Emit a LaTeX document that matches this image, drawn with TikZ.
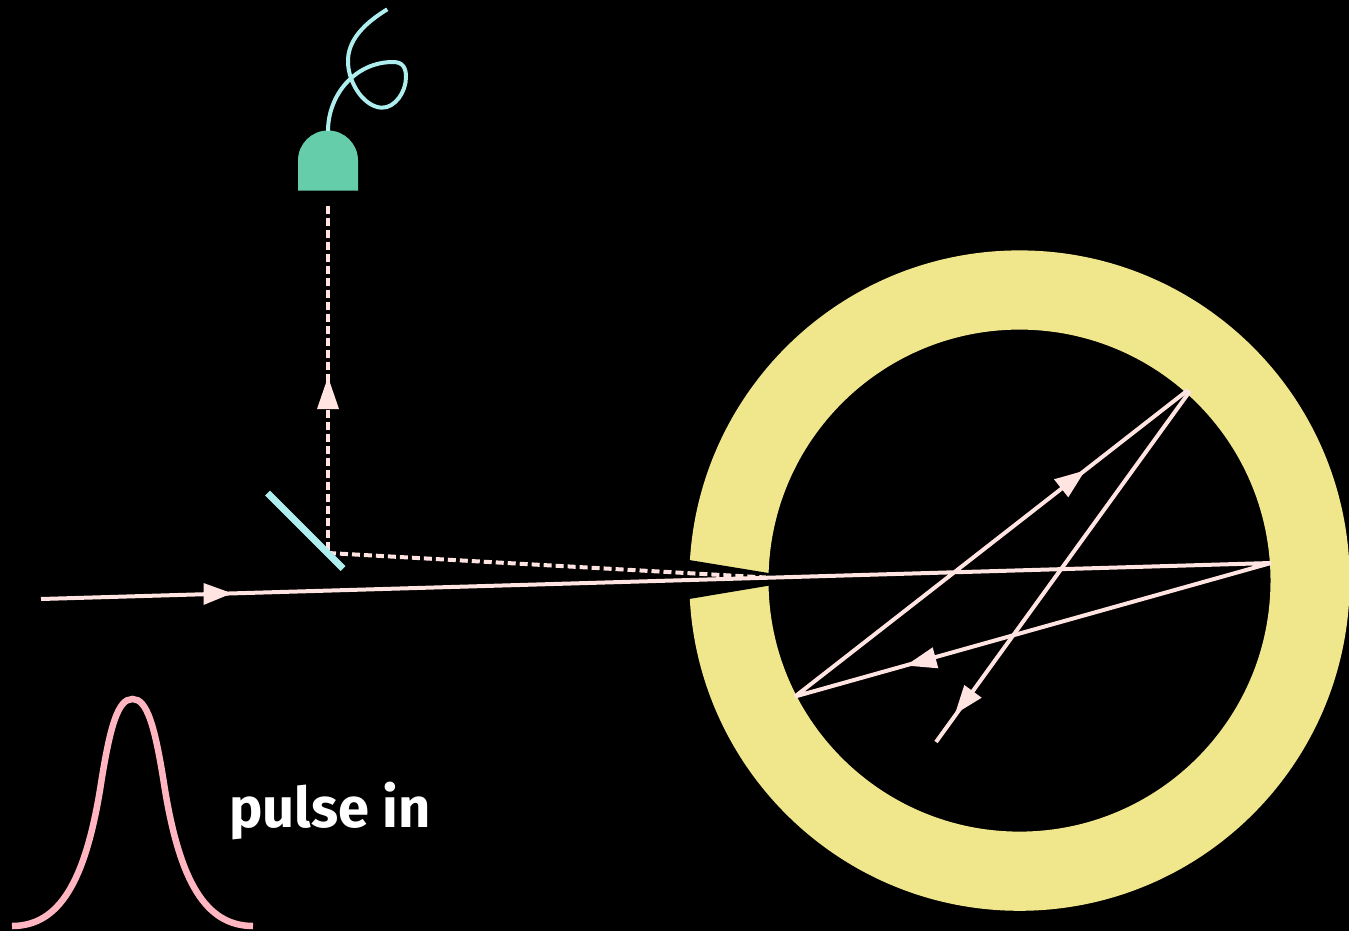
\documentclass[tikz,border=0pt]{standalone}
\usepackage{fontspec}
\setmainfont{Fira Sans}
\definecolor{ringc}{HTML}{F0E68C}
\definecolor{beamc}{HTML}{FFE4E1}
\definecolor{fiberc}{HTML}{AFEEEE}
\definecolor{detc}{HTML}{66CDAA}
\definecolor{pulsec}{HTML}{FFB6C1}
\tikzset{
  beam/.style={draw=beamc,line width=4pt,line join=bevel},
  dashbeam/.style={draw=beamc,line width=4pt,dash pattern=on 8pt off 4pt},
  head/.style={fill=beamc,draw=none},
  fibre/.style={draw=fiberc,line width=4pt},
  label/.style={text=white,font=\fontsize{56}{56}\selectfont\bfseries,inner sep=0pt,anchor=base west}
}
\begin{document}
\begin{tikzpicture}[x=1pt,y=-1pt]
\useasboundingbox[fill=black] (0,0) rectangle (1349,931);
% ring
\fill[ringc,even odd rule] (1019.5,580.6) circle[radius=330.2] (1019.5,580.6) circle[radius=251];
\fill[black] (680,558.5) -- (807,579.3) -- (680,600.5) -- cycle;
% coordinates
\coordinate (start) at (41,599);
\coordinate (r1) at (1271,563);
\coordinate (r2) at (795,696.5);
\coordinate (r3) at (1188,390);
\coordinate (r3b) at (1190,391);
\coordinate (stop) at (936,742);
\coordinate (split) at (328,553);
\coordinate (dettop) at (328,205.5);
\coordinate (inner) at (766,577.5);
% dashed
\draw[dashbeam] (split) -- (inner);
\draw[dashbeam] (dettop) -- (split);
% beam
\draw[beam] (start) -- (r1) -- (r2) -- (r3);
\draw[beam] (r3b) -- (stop);
% arrowheads
\fill[head] (203.5,583) -- (232,593.3) -- (203.5,605) -- cycle;
\fill[head] (932.7,647.3) -- (906,665.5) -- (938.3,668.3) -- cycle;
\fill[head] (1054,479.3) -- (1085,470.5) -- (1068.3,497.3) -- cycle;
\fill[head] (964.3,685) -- (955,714) -- (981.7,697.7) -- cycle;
\fill[head] (317,409) -- (328,377) -- (339,409) -- cycle;
% mirror
\draw[fiberc,line width=7pt] (267.5,493) -- (343,568.5);
% detector
\fill[detc] (298,190.5) -- (298,160.5) arc[start angle=180,end angle=0,x radius=30,y radius=-30] -- (358,190.5) -- cycle;
% fibre
\draw[fibre] (328,131) .. controls (328,95) and (355,62) .. (393,62)
  .. controls (403,62) and (406,68) .. (406,77)
  .. controls (406,92) and (395,108) .. (381.7,107.7)
  .. controls (365,107) and (349,85) .. (348,63)
  .. controls (347,40) and (365,23) .. (387.3,9.3);
% pulse
\draw[pulsec,line width=6.5pt] (12,926) .. controls (60,926) and (85,880) .. (100,790)
  .. controls (110,725) and (118,699) .. (132.5,699)
  .. controls (147,699) and (155,725) .. (165,790)
  .. controls (180,880) and (205,926) .. (253,926);
\node[label] (pulselabel) at (229,827) {pulse in};
\end{tikzpicture}
\end{document}
